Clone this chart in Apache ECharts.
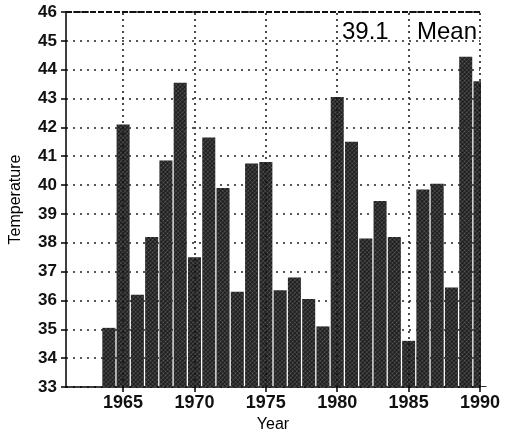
<!DOCTYPE html>
<html>
<head>
<meta charset="utf-8">
<script src="https://cdn.jsdelivr.net/npm/echarts@6/dist/echarts.min.js"></script>
<style>
html,body{margin:0;padding:0;background:#fff;}
#chart{width:505px;height:440px;}
</style>
</head>
<body>
<div id="chart"></div>
<script>
const years = [1964,1965,1966,1967,1968,1969,1970,1971,1972,1973,1974,1975,1976,1977,1978,1979,1980,1981,1982,1983,1984,1985,1986,1987,1988,1989,1990];
const temps = [35.05,42.1,36.2,38.2,40.85,43.55,37.5,41.65,39.9,36.3,40.75,40.8,36.35,36.8,36.05,35.1,43.05,41.5,38.15,39.45,38.2,34.6,39.85,40.05,36.45,44.45,43.6];
const xTickValues = [1965,1970,1975,1980,1985,1990];
const xMin = 1961, xMax = 1990;
const yMin = 33, yMax = 46, yStep = 1;
const meanValue = '39.1';
const meanWord = 'Mean';
const xName = 'Year';
const yName = 'Temperature';

const FONT = '"Liberation Sans", Arial, sans-serif';
const chart = echarts.init(document.getElementById('chart'), null, {renderer: 'canvas'});
chart.setOption({
  animation: false,
  backgroundColor: '#fff',
  grid: {left: 63, right: 25, top: 12, bottom: 53, containLabel: false},
  xAxis: {
    type: 'value', min: xMin, max: xMax,
    name: xName, nameLocation: 'middle', nameGap: 28,
    nameTextStyle: {fontFamily: FONT, fontSize: 16, color: '#000'},
    axisLine: {show: true, lineStyle: {color: '#000', width: 1.5}},
    axisTick: {show: true, customValues: xTickValues, length: 5, lineStyle: {color: '#000', width: 1.5}},
    axisLabel: {customValues: xTickValues, formatter: v => String(v), fontFamily: FONT, fontWeight: 'bold', fontSize: 18, color: '#111', margin: 7},
    splitLine: {show: false}
  },
  yAxis: {
    type: 'value', min: yMin, max: yMax, interval: yStep,
    name: yName, nameLocation: 'middle', nameGap: 42,
    nameTextStyle: {fontFamily: FONT, fontSize: 16, color: '#000'},
    axisLine: {show: true, lineStyle: {color: '#000', width: 1.5}},
    axisTick: {show: true, length: 5, lineStyle: {color: '#000', width: 1.5}},
    axisLabel: {formatter: v => String(v), fontFamily: FONT, fontWeight: 'bold', fontSize: 17, color: '#111', margin: 9},
    splitLine: {show: true, lineStyle: {color: '#222', width: 1.5, type: [2, 5]}}
  },
  series: [{
    type: 'bar',
    data: years.map((y, i) => [y, temps[i]]),
    barWidth: 13,
    clip: true,
    itemStyle: {
      color: '#1c1c1c',
      decal: {symbol: 'circle', symbolSize: 0.6, color: 'rgba(255,255,255,0.3)', dashArrayX: [3, 0], dashArrayY: [3, 0], rotation: Math.PI / 4}
    },
    markLine: {
      silent: true, symbol: 'none', animation: false,
      label: {show: false},
      lineStyle: {color: '#111', width: 1.5, type: [2, 4]},
      data: xTickValues.map(v => ({xAxis: v})).concat([{yAxis: yMax, lineStyle: {type: [6, 2], width: 2}}])
    }
  }],
  graphic: [
    {type: 'text', left: 342, top: 20, z: 50,
     style: {text: meanValue, fontFamily: FONT, fontSize: 24, fill: '#000'}},
    {type: 'text', left: 417, top: 20, z: 50,
     style: {text: meanWord, fontFamily: FONT, fontSize: 24, fill: '#000'}},
    {type: 'rect', z: 60, shape: {x: 481, y: 14, width: 24, height: 372}, style: {fill: '#fff'}}
  ]
});
</script>
</body>
</html>
